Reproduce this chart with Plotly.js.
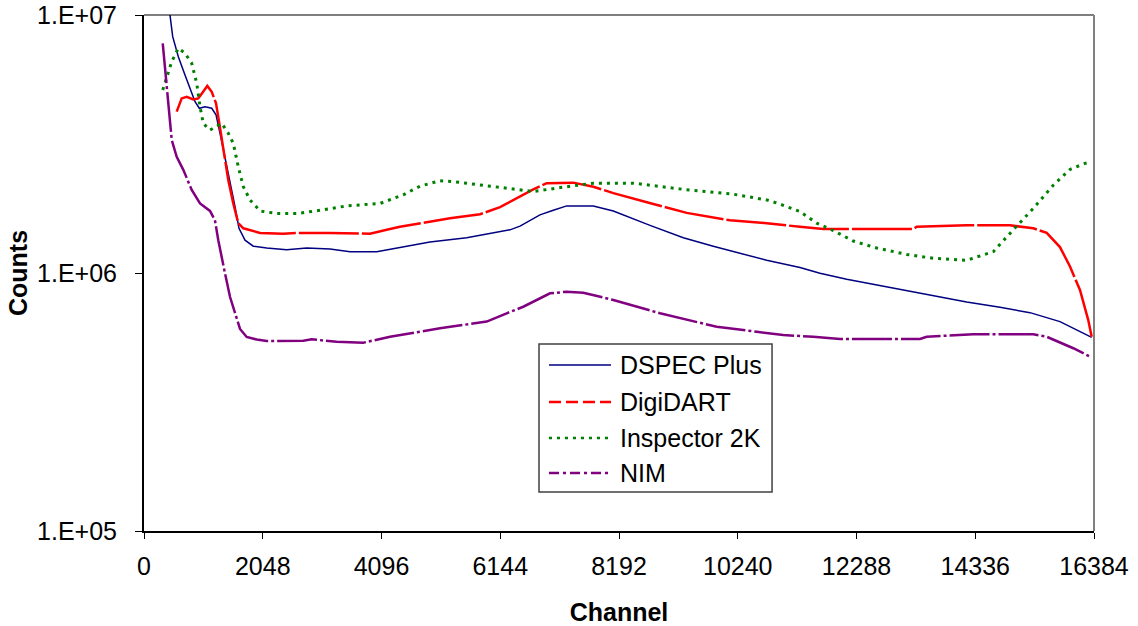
<!DOCTYPE html>
<html>
<head>
<meta charset="utf-8">
<script src="https://cdn.plot.ly/plotly-3.0.1.min.js"></script>
<style>
  html, body { margin: 0; padding: 0; background: #ffffff; }
  #chart { width: 1138px; height: 626px; }
</style>
</head>
<body>
<div id="chart"></div>
<script>
// Spectrum counts per channel for four acquisition systems
const dspecChannel = [400, 448, 495, 592, 707, 811, 880, 954, 1052, 1168, 1242, 1311, 1397, 1483, 1569, 1638, 1742, 1885, 2116, 2461, 2806, 3208, 3553, 4013, 4358, 4932, 5565, 6312, 6485, 6829, 7059, 7290, 7749, 8094, 8727, 9301, 9818, 10163, 10739, 11313, 11658, 12119, 13038, 13612, 14188, 14763, 15280, 15797, 16344];
const dspecCounts  = [1.15e7, 1.0e7, 8.24e6, 6.89e6, 5.85e6, 5.12e6, 4.61e6, 4.35e6, 4.41e6, 4.35e6, 4.10e6, 3.48e6, 2.82e6, 2.23e6, 1.81e6, 1.49e6, 1.34e6, 1.27e6, 1.25e6, 1.23e6, 1.25e6, 1.24e6, 1.21e6, 1.21e6, 1.25e6, 1.32e6, 1.37e6, 1.47e6, 1.52e6, 1.68e6, 1.75e6, 1.82e6, 1.82e6, 1.74e6, 1.53e6, 1.37e6, 1.27e6, 1.21e6, 1.12e6, 1.05e6, 9.97e5, 9.45e5, 8.64e5, 8.14e5, 7.72e5, 7.36e5, 7.02e5, 6.48e5, 5.63e5];

const digiChannel = [564, 650, 736, 850, 936, 1023, 1092, 1168, 1242, 1299, 1368, 1454, 1540, 1626, 1713, 2001, 2402, 2690, 3208, 3898, 4186, 4415, 5277, 5795, 6140, 6369, 6714, 6945, 7404, 7749, 8094, 8784, 9360, 10106, 10739, 11313, 11715, 13267, 13326, 14188, 14935, 15337, 15568, 15797, 15970, 16142, 16285, 16344];
const digiCounts  = [4.22e6, 4.75e6, 4.82e6, 4.71e6, 4.75e6, 5.04e6, 5.31e6, 5.04e6, 4.55e6, 3.80e6, 3.00e6, 2.29e6, 1.86e6, 1.56e6, 1.49e6, 1.43e6, 1.42e6, 1.43e6, 1.43e6, 1.42e6, 1.47e6, 1.51e6, 1.63e6, 1.69e6, 1.80e6, 1.92e6, 2.11e6, 2.23e6, 2.24e6, 2.16e6, 2.04e6, 1.85e6, 1.71e6, 1.60e6, 1.56e6, 1.51e6, 1.48e6, 1.48e6, 1.51e6, 1.53e6, 1.53e6, 1.49e6, 1.43e6, 1.26e6, 1.06e6, 8.59e5, 6.57e5, 5.66e5];

const inspChannel = [323, 391, 478, 592, 707, 823, 909, 966, 1023, 1138, 1254, 1340, 1454, 1540, 1626, 1713, 1828, 2001, 2289, 2634, 3035, 3496, 4070, 4472, 4760, 5105, 5334, 6024, 6714, 7290, 7749, 8439, 9301, 10163, 10739, 10969, 11313, 11601, 11888, 12233, 12636, 13154, 13612, 14188, 14647, 14992, 15337, 15682, 15970, 16229, 16315];
const inspCounts  = [5.12e6, 5.77e6, 6.59e6, 7.43e6, 7.11e6, 6.50e6, 5.44e6, 4.41e6, 3.80e6, 3.58e6, 3.69e6, 3.80e6, 3.48e6, 3.18e6, 2.58e6, 2.16e6, 1.92e6, 1.74e6, 1.70e6, 1.70e6, 1.75e6, 1.82e6, 1.86e6, 2.01e6, 2.17e6, 2.28e6, 2.26e6, 2.16e6, 2.07e6, 2.16e6, 2.23e6, 2.23e6, 2.11e6, 2.02e6, 1.92e6, 1.85e6, 1.73e6, 1.56e6, 1.46e6, 1.33e6, 1.25e6, 1.18e6, 1.14e6, 1.12e6, 1.21e6, 1.47e6, 1.78e6, 2.19e6, 2.52e6, 2.66e6, 2.69e6];

const nimChannel = [323, 362, 419, 478, 564, 678, 823, 966, 1138, 1224, 1281, 1345, 1397, 1483, 1569, 1656, 1771, 1944, 2116, 2747, 2892, 3323, 3782, 4243, 5105, 5910, 6255, 6541, 7002, 7290, 7576, 8094, 8899, 9589, 9877, 10567, 11026, 11543, 12003, 13383, 13498, 14302, 15337, 15568, 16027, 16315];
const nimCounts  = [7.77e6, 6.30e6, 4.41e6, 3.28e6, 2.82e6, 2.51e6, 2.10e6, 1.86e6, 1.74e6, 1.60e6, 1.34e6, 1.12e6, 9.97e5, 8.09e5, 6.98e5, 6.07e5, 5.65e5, 5.52e5, 5.45e5, 5.46e5, 5.53e5, 5.42e5, 5.37e5, 5.66e5, 6.11e5, 6.48e5, 6.98e5, 7.40e5, 8.34e5, 8.46e5, 8.39e5, 7.86e5, 6.98e5, 6.42e5, 6.19e5, 5.92e5, 5.75e5, 5.66e5, 5.55e5, 5.55e5, 5.66e5, 5.79e5, 5.79e5, 5.66e5, 5.11e5, 4.74e5];

const seriesNames = ['DSPEC Plus', 'DigiDART', 'Inspector 2K', 'NIM'];
const channelTicks = [0, 2048, 4096, 6144, 8192, 10240, 12288, 14336, 16384];
const countTicks = [1e5, 1e6, 1e7];
const countTickText = ['1.E+05', '1.E+06', '1.E+07'];

const FONT = 'Liberation Sans, Arial, Helvetica, sans-serif';

// line styles for the curves and their legend samples
const styles = [
  { color: '#000080', width: 1.5, plotDash: 'solid',              keyDash: 'solid' },
  { color: '#FF0000', width: 2.5, plotDash: '60px,3px',           keyDash: '12px,5px' },
  { color: '#008000', width: 3,   plotDash: '3px,5px',            keyDash: '3px,5px' },
  { color: '#800080', width: 2.5, plotDash: '40px,3px,3px,3px',   keyDash: '10px,4px,3px,4px' }
];

const xs = [dspecChannel, digiChannel, inspChannel, nimChannel];
const ys = [dspecCounts, digiCounts, inspCounts, nimCounts];

const traces = seriesNames.map((name, i) => ({
  type: 'scatter',
  mode: 'lines',
  name: name,
  x: xs[i],
  y: ys[i],
  line: { color: styles[i].color, width: styles[i].width, dash: styles[i].plotDash },
  showlegend: false,
  hoverinfo: 'x+y+name'
}));

// hand-built legend box (paper coordinates)
const shapes = [
  // top and right frame lines of the plot area
  { type: 'line', xref: 'paper', yref: 'paper', x0: 0, x1: 1, y0: 1, y1: 1,
    line: { color: '#000000', width: 1.2 } },
  { type: 'line', xref: 'paper', yref: 'paper', x0: 1, x1: 1, y0: 0, y1: 1,
    line: { color: '#808080', width: 2 } },
  { type: 'rect', xref: 'paper', yref: 'paper', x0: 0.4158, x1: 0.6611, y0: 0.0756, y1: 0.3624,
    line: { color: '#404040', width: 1.5 }, fillcolor: '#ffffff', layer: 'above' }
];
const annotations = [];
const rowY = [0.3217, 0.2500, 0.1802, 0.1124];
seriesNames.forEach((name, i) => {
  shapes.push({
    type: 'line', xref: 'paper', yref: 'paper',
    x0: 0.4263, x1: 0.4916, y0: rowY[i], y1: rowY[i],
    line: { color: styles[i].color, width: i === 0 ? 1.5 : 2.5, dash: styles[i].keyDash },
    layer: 'above'
  });
  annotations.push({
    xref: 'paper', yref: 'paper', x: 0.4989, y: rowY[i],
    xanchor: 'left', yanchor: 'middle', showarrow: false,
    text: name, font: { family: FONT, size: 25, color: '#000000' }
  });
});

const layout = {
  width: 1138,
  height: 626,
  margin: { l: 144, r: 44, t: 15, b: 95, pad: 0 },
  paper_bgcolor: '#ffffff',
  plot_bgcolor: '#ffffff',
  font: { family: FONT, size: 25, color: '#000000' },
  showlegend: false,
  xaxis: {
    range: [0, 16384],
    tickmode: 'array',
    tickvals: channelTicks,
    ticktext: channelTicks.map(String),
    ticks: 'outside',
    ticklen: 6,
    tickwidth: 1,
    tickcolor: '#000000',
    ticklabelstandoff: 6,
    showline: true,
    linecolor: '#000000',
    linewidth: 2,
    showgrid: false,
    zeroline: false,
    tickfont: { family: FONT, size: 25, color: '#000000' },
    title: { text: '<b>Channel</b>', font: { family: FONT, size: 25, color: '#000000' }, standoff: 24 }
  },
  yaxis: {
    type: 'log',
    range: [5, 7],
    tickmode: 'array',
    tickvals: countTicks,
    ticktext: countTickText,
    ticks: 'outside',
    ticklen: 7,
    tickwidth: 1,
    tickcolor: '#000000',
    ticklabelstandoff: 13,
    showline: true,
    linecolor: '#000000',
    linewidth: 2,
    showgrid: false,
    zeroline: false,
    tickfont: { family: FONT, size: 25, color: '#000000' },
    title: { text: '<b>Counts</b>', font: { family: FONT, size: 25, color: '#000000' }, standoff: 2 }
  },
  shapes: shapes,
  annotations: annotations
};

Plotly.newPlot('chart', traces, layout, { displayModeBar: false, staticPlot: true });
</script>
</body>
</html>
